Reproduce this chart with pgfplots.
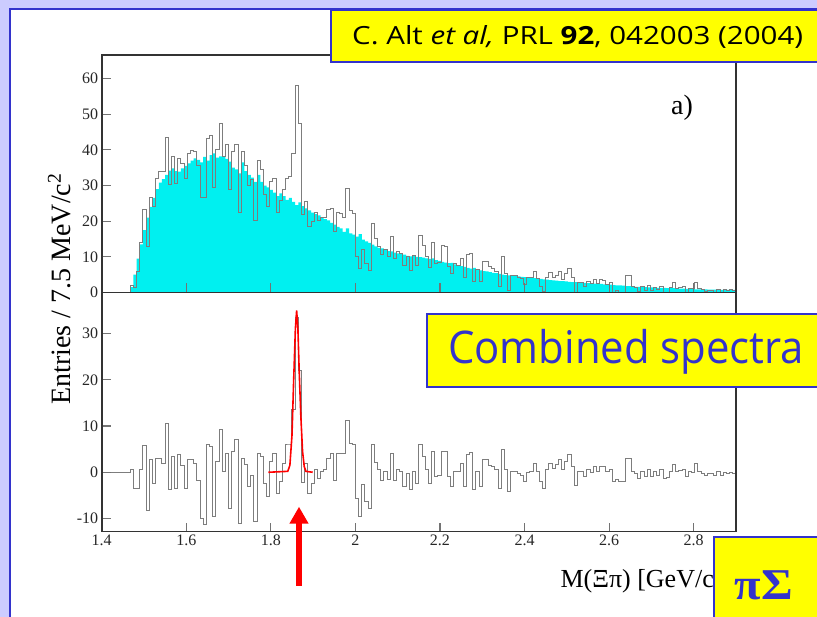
\documentclass[border=0pt]{standalone}
\usepackage{pgfplots}
\pgfplotsset{compat=1.18}
\usepackage{pgfplotstable}
\usepackage{fontspec}
\setmainfont{Liberation Serif}
\newfontfamily\comic{Open Sans}
\usetikzlibrary{arrows.meta}
\definecolor{lav}{RGB}{204,204,255}
\definecolor{bord}{RGB}{51,51,204}
\definecolor{hcyan}{RGB}{0,240,240}
\definecolor{hgray}{RGB}{125,125,125}
\definecolor{ylw}{RGB}{255,255,0}

\pgfplotstableread{
x bkg data diff
1.4 0 0 0
1.4075 0 0 0
1.415 0 0 0
1.4225 0 0 0
1.43 0 0 0
1.4375 0 0 0
1.445 0 0 0
1.4525 0 0 0
1.46 0 0 0
1.4675 1.5 2.0 0.5
1.475 5.0 1.4 -3.6
1.4825 9.5 5.9 -3.6
1.49 13.5 14.1 0.6
1.4975 17.5 23.3 5.8
1.505 21.0 12.8 -8.2
1.5125 24.0 26.7 2.7
1.52 26.5 24.1 -2.4
1.5275 29.0 32.0 3.0
1.535 30.8 33.8 3.0
1.5425 31.8 33.8 2.0
1.55 33.0 43.6 10.6
1.5575 34.2 30.4 -3.8
1.565 34.8 38.2 3.4
1.5725 34.0 30.5 -3.5
1.58 33.9 37.7 3.8
1.5875 34.8 36.3 1.5
1.595 35.5 31.9 -3.6
1.6025 36.2 38.9 2.7
1.61 37.0 39.7 2.7
1.6175 37.6 39.6 2.0
1.625 37.2 35.5 -1.7
1.6325 36.5 26.5 -10.0
1.64 38.0 26.6 -11.4
1.6475 37.0 43.1 6.1
1.655 38.5 44.0 5.5
1.6625 39.0 29.4 -9.6
1.67 37.8 40.1 2.3
1.6775 38.2 47.5 9.3
1.685 38.0 38.1 0.1
1.6925 37.5 41.6 4.1
1.7 36.7 28.9 -7.8
1.7075 35.0 39.5 4.5
1.715 34.5 41.5 7.0
1.7225 33.4 22.4 -11.0
1.73 36.5 39.5 3.0
1.7375 34.0 35.6 1.6
1.745 33.0 29.9 -3.1
1.7525 32.2 31.6 -0.6
1.76 31.0 20.3 -10.7
1.7675 33.0 37.1 4.1
1.775 31.0 34.4 3.4
1.7825 30.0 27.6 -2.4
1.79 29.5 24.2 -5.3
1.7975 28.8 31.1 2.3
1.805 28.0 32.1 4.1
1.8125 27.0 22.5 -4.5
1.82 27.8 25.8 -2.0
1.8275 27.0 29.0 2.0
1.835 26.0 31.9 5.9
1.8425 26.5 32.4 5.9
1.85 25.4 38.9 13.5
1.8575 24.5 58.0 33.5
1.865 25.3 47.3 22.0
1.8725 24.2 22.0 -2.2
1.88 23.6 25.6 2.0
1.8875 23.0 18.5 -4.5
1.895 22.4 20.0 -2.4
1.9025 22.0 22.5 0.5
1.91 21.6 20.3 -1.3
1.9175 21.0 21.1 0.1
1.925 20.6 21.1 0.5
1.9325 20.2 23.2 3.0
1.94 19.5 23.6 4.1
1.9475 19.0 17.2 -1.8
1.955 18.4 22.5 4.1
1.9625 18.0 22.1 4.1
1.97 17.0 21.1 4.1
1.9775 18.0 29.1 11.1
1.985 16.6 22.9 6.3
1.9925 16.2 22.1 5.9
2.0 15.7 10.1 -5.6
2.0075 16.4 6.8 -9.6
2.015 14.8 12.1 -2.7
2.0225 14.3 8.0 -6.3
2.03 13.9 6.1 -7.8
2.0375 13.4 19.3 5.9
2.045 12.9 15.1 2.2
2.0525 12.5 13.0 0.5
2.06 12.4 10.7 -1.7
2.0675 12.0 12.1 0.1
2.075 11.6 10.1 -1.5
2.0825 11.5 15.6 4.1
2.09 11.2 9.5 -1.7
2.0975 11.0 11.5 0.5
2.105 10.8 10.9 0.1
2.1125 10.6 7.5 -3.1
2.12 10.3 10.1 -0.2
2.1275 10.1 6.3 -3.8
2.135 10.3 10.4 0.1
2.1425 10.0 7.6 -2.4
2.15 9.9 16.0 6.1
2.1575 9.8 13.2 3.4
2.165 9.6 10.1 0.5
2.1725 9.4 7.0 -2.4
2.18 9.6 14.1 4.5
2.1875 9.1 8.2 -0.9
2.195 8.9 8.3 -0.6
2.2025 8.6 13.1 4.5
2.21 8.4 12.9 4.5
2.2175 8.2 7.3 -0.9
2.225 8.3 5.2 -3.1
2.2325 7.9 8.0 0.1
2.24 7.6 7.7 0.1
2.2475 7.4 9.4 2.0
2.255 7.2 4.1 -3.1
2.2625 6.9 10.7 3.8
2.27 6.7 11.0 4.3
2.2775 6.9 3.1 -3.8
2.285 6.4 6.5 0.1
2.2925 6.2 3.1 -3.1
2.3 6.0 8.7 2.7
2.3075 5.9 8.6 2.7
2.315 5.7 7.2 1.5
2.3225 5.5 6.7 1.2
2.33 5.4 5.9 0.5
2.3375 5.2 1.7 -3.5
2.345 5.0 10.0 5.0
2.3525 4.9 5.4 0.5
2.36 4.8 0.6 -4.2
2.3675 4.7 4.8 0.1
2.375 4.6 4.7 0.1
2.3825 4.5 4.3 -0.2
2.39 4.4 3.8 -0.6
2.3975 4.3 2.3 -2.0
2.405 4.2 4.2 0.0
2.4125 4.1 4.2 0.1
2.42 4.0 6.0 2.0
2.4275 3.9 4.0 0.1
2.435 3.8 1.8 -2.0
2.4425 3.7 0.2 -3.5
2.45 3.6 4.1 0.5
2.4575 3.5 5.5 2.0
2.465 3.4 4.2 0.8
2.4725 3.3 4.9 1.6
2.48 3.2 5.9 2.7
2.4875 3.2 3.7 0.5
2.495 3.1 5.4 2.3
2.5025 3.0 6.8 3.8
2.51 2.9 4.1 1.2
2.5175 2.9 0.0 -2.9
2.525 2.8 2.9 0.1
2.5325 2.8 2.9 0.1
2.54 2.7 1.8 -0.9
2.5475 2.6 3.1 0.5
2.555 2.6 2.6 0.0
2.5625 2.5 3.7 1.2
2.57 2.4 2.5 0.1
2.5775 2.4 3.6 1.2
2.585 2.3 3.5 1.2
2.5925 2.2 2.3 0.1
2.6 2.2 2.7 0.5
2.6075 2.1 0.1 -2.0
2.615 2.0 0.5 -1.5
2.6225 2.0 0.0 -2.0
2.63 1.9 0.0 -1.9
2.6375 1.8 4.8 3.0
2.645 1.8 4.8 3.0
2.6525 1.7 1.8 0.1
2.66 1.6 1.4 -0.2
2.6675 1.6 0.3 -1.3
2.675 1.5 1.6 0.1
2.6825 1.5 0.6 -0.9
2.69 1.4 1.9 0.5
2.6975 1.4 0.5 -0.9
2.705 1.4 1.5 0.1
2.7125 1.3 0.7 -0.6
2.72 1.3 1.8 0.5
2.7275 1.3 0.0 -1.3
2.735 1.2 0.0 -1.2
2.7425 1.2 1.3 0.1
2.75 1.2 2.8 1.6
2.7575 1.1 1.2 0.1
2.765 1.1 1.4 0.3
2.7725 1.1 1.6 0.5
2.78 1.0 0.1 -0.9
2.7875 1.0 1.1 0.1
2.795 1.0 1.0 0.0
2.8025 0.9 2.7 1.8
2.81 0.9 1.0 0.1
2.8175 0.9 0.7 -0.2
2.825 0.9 0.3 -0.6
2.8325 0.8 0.6 -0.2
2.84 0.8 0.6 -0.2
2.8475 0.8 0.0 -0.8
2.855 0.8 0.9 0.1
2.8625 0.7 0.1 -0.6
2.87 0.7 0.7 0.0
2.8775 0.7 0.5 -0.2
2.885 0.7 0.7 0.0
2.8925 0.7 0.5 -0.2
2.9 0.7 0.5 -0.2
}\hist

\pgfplotsset{panel/.style={
  scale only axis, width=634.3pt, xmin=1.4, xmax=2.9,
  axis line style={black!80, line width=1.6pt},
  tick align=inside, ytick pos=left, xtick pos=bottom,
  major tick length=9pt,
  tick style={black!55, line width=1.1pt},
  ticklabel style={font=\fontsize{16}{18}\selectfont, text=black!85},
  /pgf/number format/assume math mode=true,
  axis on top,
  xtick={1.4,1.6,1.8,2,2.2,2.4,2.6,2.8},
}}

\begin{document}
\begin{tikzpicture}[x=1pt,y=1pt]
\useasboundingbox (0,0) rectangle (817,617);
\fill[lav] (0,0) rectangle (817,617);
\fill[white] (10,-5) rectangle (830,608);
\draw[bord, line width=2.5pt] (10,-5) -- (10,608) -- (830,608);

\begin{axis}[panel, at={(101.7pt,324.5pt)}, anchor=south west, height=237.5pt,
  ymin=0, ymax=66.6, ytick={0,10,20,30,40,50,60}, xticklabel=\empty]
\addplot[const plot, fill=hcyan, draw=none, mark=none] table[x=x,y=bkg]{\hist} \closedcycle;
\addplot[const plot, draw=hgray, line width=1pt, mark=none] table[x=x,y=data]{\hist};
\end{axis}

\begin{axis}[panel, at={(101.7pt,85.3pt)}, anchor=south west, height=239.2pt,
  ymin=-12.86, ymax=38.9, ytick={-10,0,10,20,30}]
\addplot[const plot, draw=hgray, line width=1pt, mark=none] table[x=x,y=diff]{\hist};
\addplot[red, line width=1.6pt, mark=none] coordinates {
(1.794,0) (1.840,0.2) (1.845,1.5) (1.850,8) (1.854,20) (1.858,31) (1.861,35)
(1.864,31) (1.867,22) (1.871,12) (1.875,4.5) (1.879,1.2) (1.883,0.2) (1.899,0)};
\end{axis}

\node[rotate=90, anchor=base, font=\fontsize{28}{28}\selectfont] at (70,328) {Entries / 7.5 MeV/c\textsuperscript{2}};
\node[anchor=base west, font=\fontsize{26}{26}\selectfont] at (557,29.5) {M(Ξπ) [GeV/c\textsuperscript{2}]};
\node[anchor=base, font=\fontsize{28}{28}\selectfont] at (682,502) {a)};

\draw[red, line width=6pt, -{Triangle[width=18pt,length=17pt]}] (299,31) -- (299,110.3);

\filldraw[fill=ylw, draw=bord, line width=1.5pt] (331,555) rectangle (830,607);
\node[anchor=base west, font=\comic\fontsize{25}{25}\selectfont, xscale=1.18, inner sep=0pt] at (352,572.7) {C. Alt \textit{et al,} PRL \textbf{92}, 042003 (2004)};

\filldraw[fill=ylw, draw=bord, line width=1.5pt] (427,230) rectangle (830,303);
\node[anchor=base west, text=bord, font=\comic\fontsize{45}{45}\selectfont, xscale=0.93, inner sep=0pt] at (448,253.7) {Combined spectra};

\filldraw[fill=ylw, draw=bord, line width=1.5pt] (714,-10) rectangle (830,80);
\node[anchor=base, text=bord, font=\fontsize{44}{44}\selectfont\bfseries, xscale=1.1, inner sep=0pt] at (764,17) {πΣ};
\end{tikzpicture}
\end{document}
